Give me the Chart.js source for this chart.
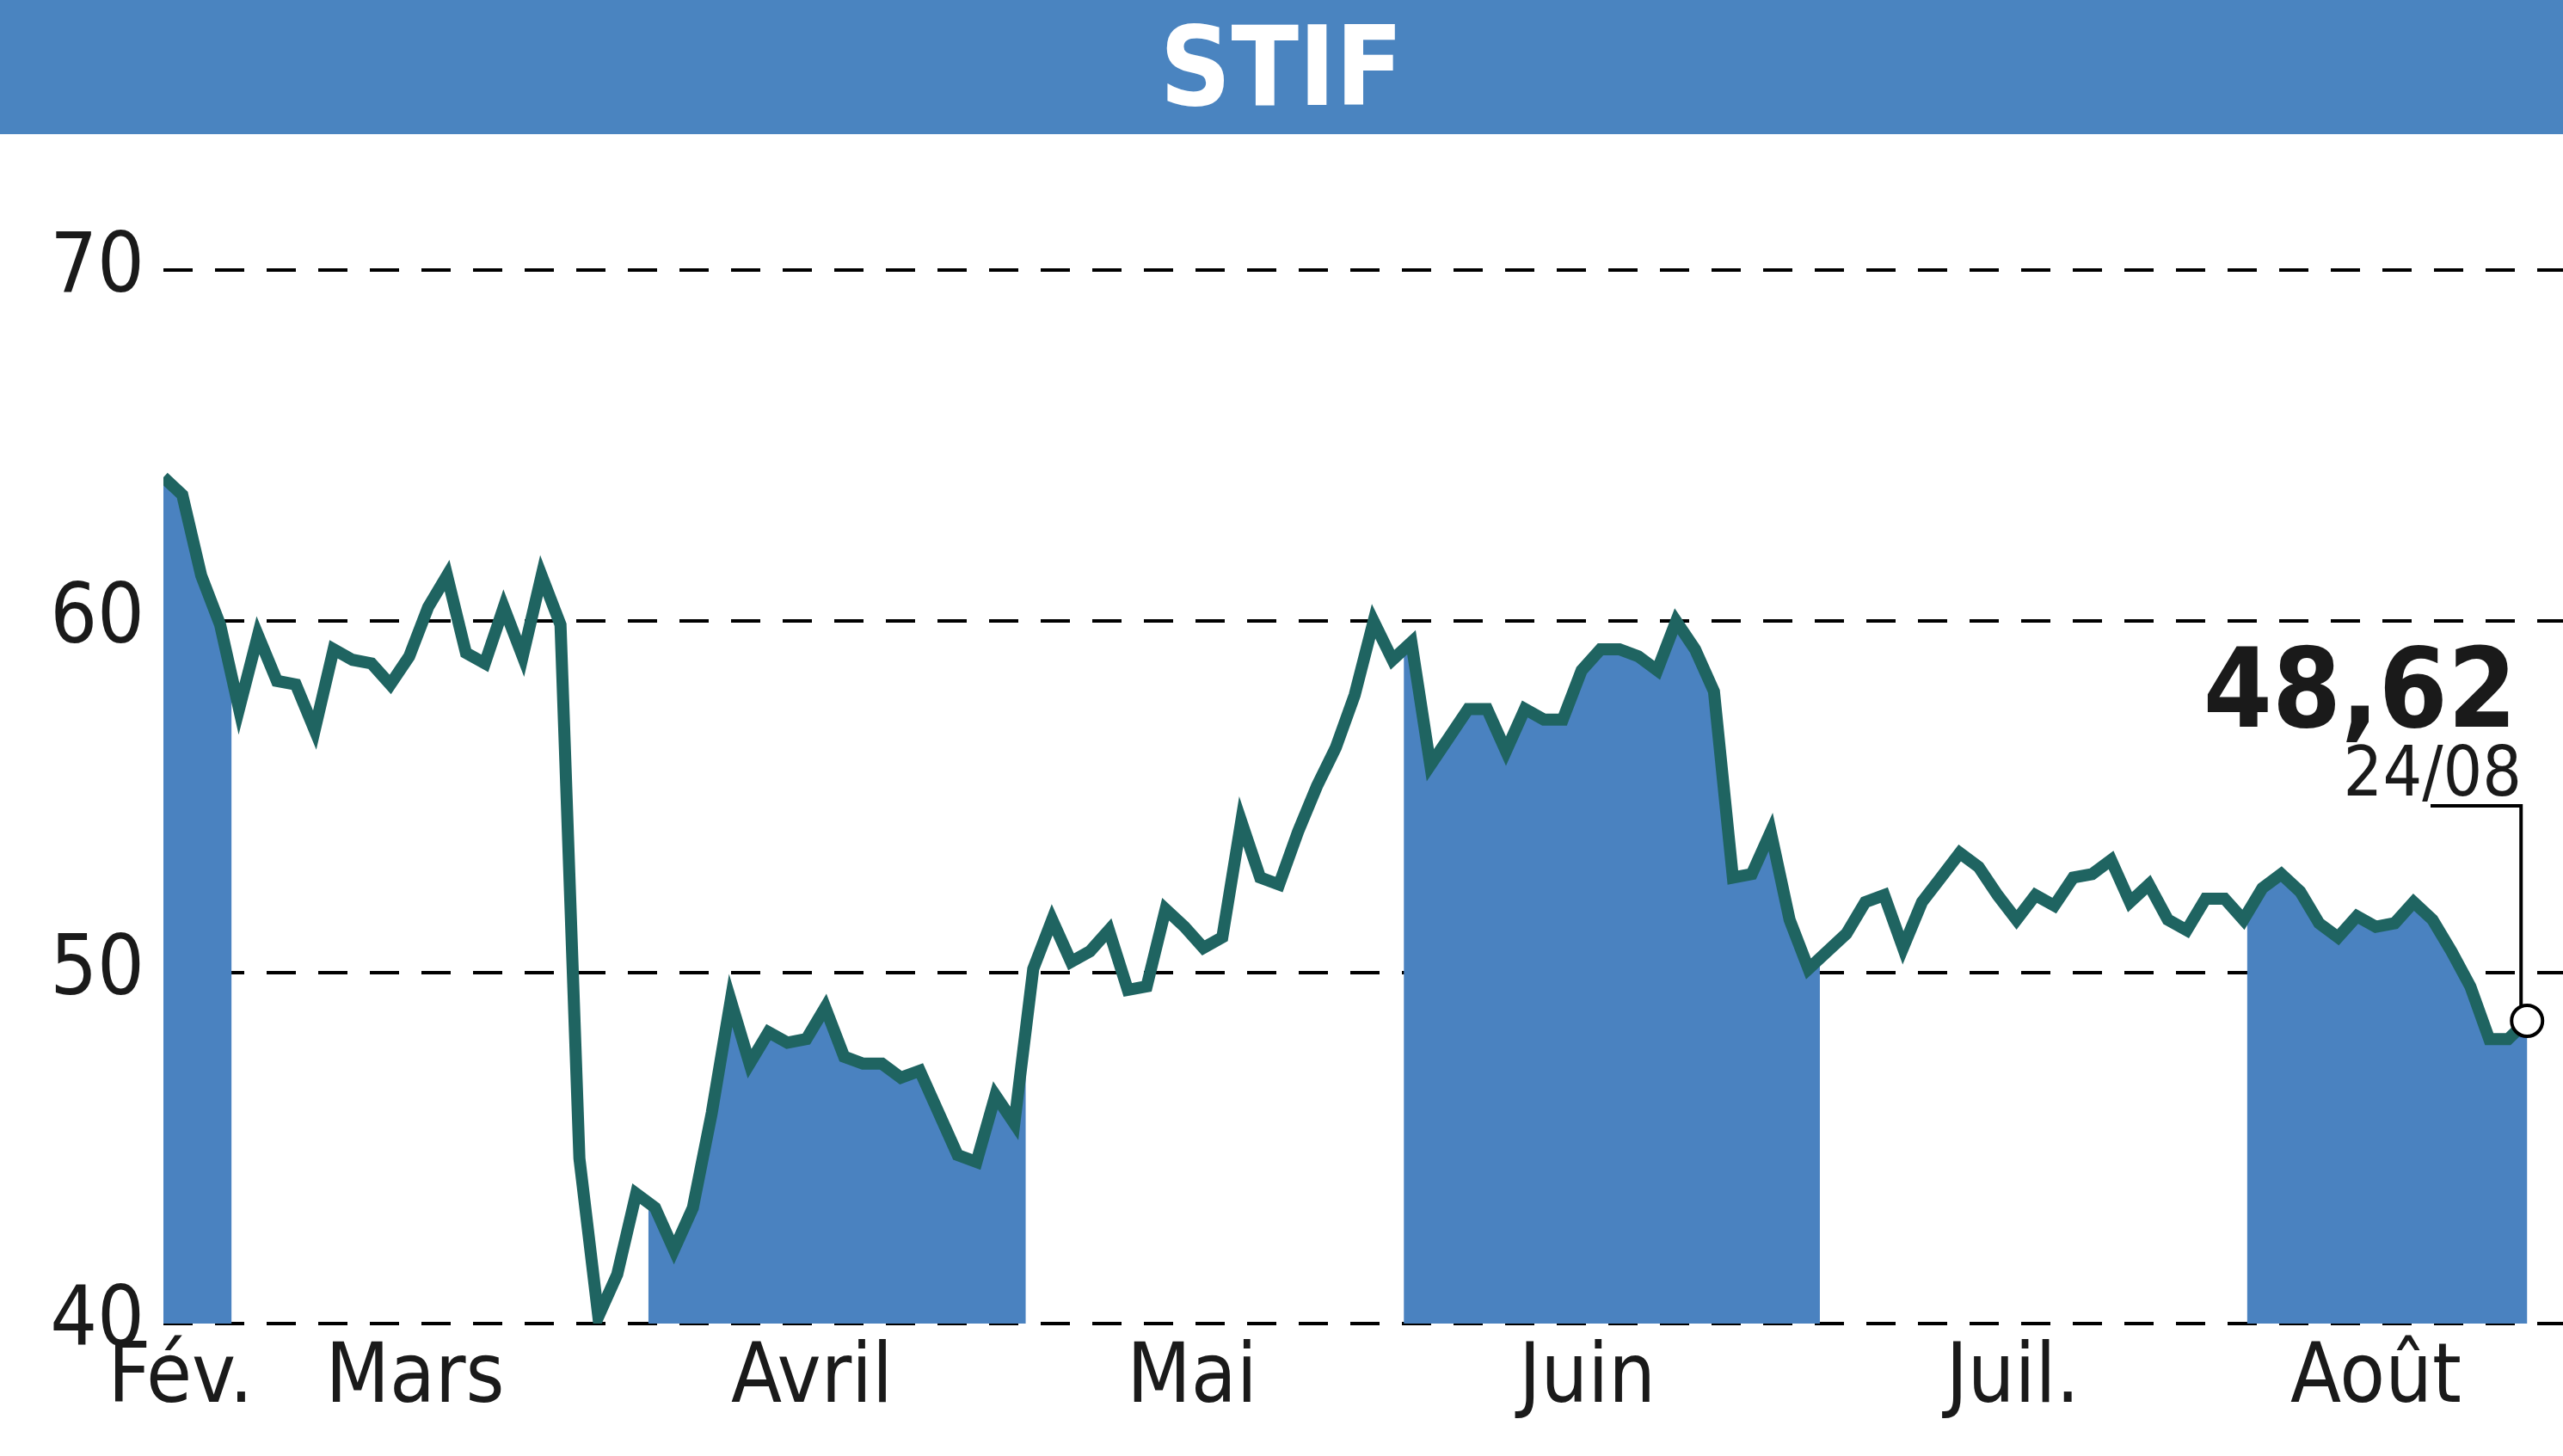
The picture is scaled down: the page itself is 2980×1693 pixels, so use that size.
<!DOCTYPE html>
<html>
<head>
<meta charset="utf-8">
<script src="https://cdn.jsdelivr.net/npm/chart.js@4/dist/chart.umd.min.js"></script>
<style>
  body { margin: 0; background: #fff; }
  #title { height: 156px; background: #4a84c0; color: #fff; text-align: center;
           font: bold 128px "DejaVu Sans Condensed", sans-serif; line-height: 156px; }
  #wrap { width: 2980px; height: 1537px; }
</style>
</head>
<body>
<div id="title">STIF</div>
<div id="wrap"><canvas id="stifChart"></canvas></div>
<script>
// daily closes (trading-day index on x)
const prices = [64.1, 63.6, 61.3, 59.9, 57.5, 59.6, 58.3, 58.2, 56.9, 59.2, 58.9, 58.8, 58.2, 59.0, 60.4, 61.3,
  59.1, 58.8, 60.4, 59.0, 61.3, 59.9, 44.7, 40.2, 41.4, 43.7, 43.3, 42.1, 43.3, 46.0, 49.2, 47.4, 48.3, 48.0,
  48.1, 49.0, 47.6, 47.4, 47.4, 47.0, 47.2, 46.0, 44.8, 44.6, 46.5, 45.7, 50.1, 51.5, 50.3, 50.6, 51.2, 49.5,
  49.6, 51.8, 51.3, 50.7, 51.0, 54.3, 52.7, 52.5, 54.0, 55.3, 56.4, 57.9, 60.0, 58.9, 59.4, 55.9, 56.7, 57.5,
  57.5, 56.3, 57.5, 57.2, 57.2, 58.6, 59.2, 59.2, 59.0, 58.6, 60.0, 59.2, 58.0, 52.7, 52.8, 54.0, 51.5, 50.1,
  50.6, 51.1, 52.0, 52.2, 50.7, 52.0, 52.7, 53.4, 53.0, 52.2, 51.5, 52.2, 51.9, 52.7, 52.8, 53.2, 52.0, 52.5,
  51.5, 51.2, 52.1, 52.1, 51.5, 52.4, 52.8, 52.3, 51.4, 51.0, 51.6, 51.3, 51.4, 52.0, 51.5, 50.6, 49.6, 48.1,
  48.1, 48.62];
const monthLabels = ['Fév.', 'Mars', 'Avril', 'Mai', 'Juin', 'Juil.', 'Août'];
const monthLabelPos = [0.9, 13.3, 34.3, 54.4, 75.3, 97.8, 117];
// shaded months: [start, end] in trading-day index
const shadedMonths = [[-1, 3.6], [25.65, 45.6], [65.6, 87.6], [110.2, 126]];
const yTicks = [40, 50, 60, 70];
const lastValue = '48,62';
const lastDate = '24/08';

const font = '"DejaVu Sans Condensed", sans-serif';

const shadePlugin = {
  id: 'shade',
  beforeDatasetsDraw(chart) {
    const { ctx, chartArea, scales: { x, y } } = chart;
    const pts = chart.getDatasetMeta(0).data;
    const base = y.getPixelForValue(40);
    shadedMonths.forEach(([a, b]) => {
      const x0 = Math.max(x.getPixelForValue(a), chartArea.left);
      const x1 = x.getPixelForValue(b);
      ctx.save();
      ctx.beginPath();
      ctx.rect(x0, chartArea.top - 50, x1 - x0, base - chartArea.top + 50);
      ctx.clip();
      ctx.beginPath();
      ctx.moveTo(pts[0].x, base);
      pts.forEach(p => ctx.lineTo(p.x, p.y));
      ctx.lineTo(pts[pts.length - 1].x, base);
      ctx.closePath();
      ctx.fillStyle = '#4a82c0';
      ctx.fill();
      ctx.restore();
    });
  },
  afterDatasetsDraw(chart) {
    const { ctx } = chart;
    const pts = chart.getDatasetMeta(0).data;
    const p = pts[pts.length - 1];
    ctx.save();
    ctx.strokeStyle = '#000';
    ctx.lineWidth = 4;
    ctx.beginPath();
    ctx.moveTo(2826, 781);
    ctx.lineTo(p.x - 7, 781);
    ctx.lineTo(p.x - 7, p.y);
    ctx.stroke();
    ctx.beginPath();
    ctx.arc(p.x, p.y, 18, 0, Math.PI * 2);
    ctx.fillStyle = '#fff';
    ctx.fill();
    ctx.lineWidth = 4;
    ctx.stroke();
    ctx.fillStyle = '#1a1a1a';
    ctx.textAlign = 'right';
    ctx.font = 'bold 128px ' + font;
    ctx.fillText(lastValue, 2926, 689);
    ctx.font = '80px ' + font;
    ctx.fillText(lastDate, 2932, 769);
    ctx.restore();
  }
};

const ctx = document.getElementById('stifChart').getContext('2d');
const stifChart = new Chart(ctx, {
  type: 'line',
  data: {
    datasets: [{
      data: prices.map((v, i) => ({ x: i, y: v })),
      borderColor: '#1f6461',
      borderWidth: 14,
      pointRadius: 0,
      tension: 0,
      fill: false
    }]
  },
  options: {
    responsive: true,
    maintainAspectRatio: false,
    animation: false,
    layout: { padding: { top: 158, right: 0, left: 0, bottom: 0 } },
    scales: {
      x: {
        type: 'linear',
        min: 0,
        max: 126.9,
        afterFit(s) { s.height = 154; },
        afterBuildTicks(s) { s.ticks = monthLabelPos.map(v => ({ value: v })); },
        ticks: {
          autoSkip: false,
          maxRotation: 0,
          color: '#1a1a1a',
          font: { family: font, size: 96 },
          padding: 0,
          callback: (v, i) => monthLabels[i]
        },
        grid: { display: false },
        border: { display: false }
      },
      y: {
        min: 40,
        max: 70,
        afterFit(s) { s.width = 190; },
        afterBuildTicks(s) { s.ticks = yTicks.map(v => ({ value: v })); },
        ticks: {
          color: '#1a1a1a',
          font: { family: font, size: 96 },
          padding: 22
        },
        grid: { color: '#000', lineWidth: 4, drawTicks: false },
        border: { display: false, dash: [34, 26] }
      }
    },
    plugins: { legend: { display: false }, tooltip: { enabled: false } }
  },
  plugins: [shadePlugin]
});
</script>
</body>
</html>
